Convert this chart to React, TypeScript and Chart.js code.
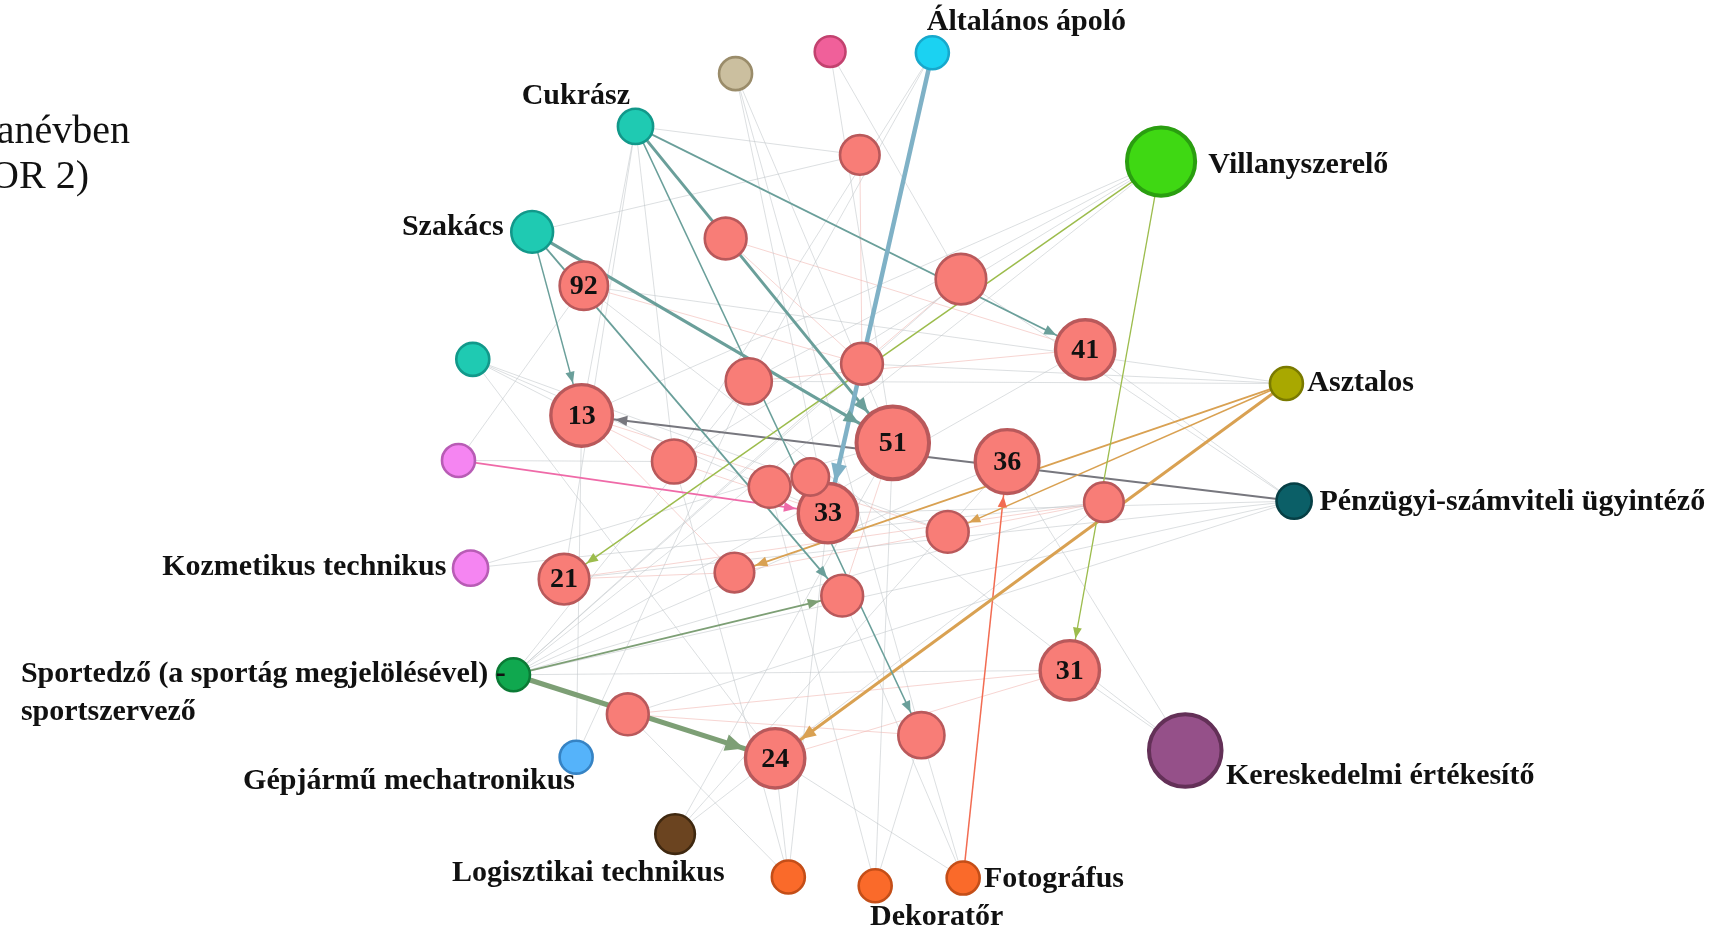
import React, { useEffect, useRef } from "react";
import { Chart, registerables } from "chart.js";

Chart.register(...registerables);

// Layout coordinate system of the network (reference units)
const W_REF = 1568;
const H_REF = 849;

// ---- Nodes ----
const nodeKeys = [
  "apolo", "pink", "beige", "cukrasz", "rTop", "villany", "szakacs", "rA", "rB", "n92",
  "n41", "tealS", "rC", "asztalos", "rD", "n13", "n51", "n36", "magenta", "rE",
  "n33", "rF", "rG", "rH", "penz", "rI", "kozm", "n21", "rJ", "rK",
  "sport", "n31", "rL", "rM", "gep", "n24", "keresk", "logi", "or1", "dek", "foto",
];
const nodeX = [
  848, 755, 669, 578, 782, 1056, 484, 660, 874, 531,
  987, 430, 784, 1170, 681, 529, 812, 916, 417, 613,
  753, 700, 737, 1004, 1177, 862, 428, 513, 668, 766,
  467, 973, 571, 838, 524, 705, 1078, 614, 717, 796, 876,
];
const nodeY = [
  48, 47, 67, 115, 141, 147, 211, 217, 254, 260,
  318, 327, 331, 349, 347, 378, 403, 420, 419, 420,
  467, 443, 434, 457, 456, 484, 517, 527, 521, 542,
  614, 610, 650, 669, 689, 690, 683, 759, 798, 806, 799,
];
const nodeSize = [
  15, 14, 15, 16, 18, 31, 19, 19, 23, 22,
  27, 15, 19, 15, 21, 28, 33, 29, 15, 20,
  27, 19, 17, 18, 16, 19, 16, 23, 18, 19,
  15, 27, 19, 21, 15, 27, 33, 18, 15, 15, 15,
];
const nodeGroup = [
  "sky", "rose", "beige", "teal", "red", "lime", "teal", "red", "red", "red",
  "red", "teal", "red", "olive", "red", "red", "red", "red", "violet", "red",
  "red", "red", "red", "red", "petrol", "red", "violet", "red", "red", "red",
  "green", "red", "red", "red", "blue", "red", "purple", "brown", "orange", "orange", "orange",
];
const nodeNumbers: Record<string, string> = {
  n92: "92", n41: "41", n13: "13", n51: "51", n36: "36", n33: "33", n21: "21", n31: "31", n24: "24",
};
const nodeLabels: Record<string, string[]> = {
  apolo: ["Általános ápoló"],
  cukrasz: ["Cukrász"],
  villany: ["Villanyszerelő"],
  szakacs: ["Szakács"],
  asztalos: ["Asztalos"],
  penz: ["Pénzügyi-számviteli ügyintéző"],
  kozm: ["Kozmetikus technikus"],
  sport: ["Sportedző (a sportág megjelölésével) -", "sportszervező"],
  gep: ["Gépjármű mechatronikus"],
  keresk: ["Kereskedelmi értékesítő"],
  logi: ["Logisztikai technikus"],
  foto: ["Fotográfus"],
  dek: ["Dekoratőr"],
};
const titleLines = ["anévben", "OR 2)"];

// ---- Directed (highlighted) edges ----
const arrowFrom = ["apolo", "cukrasz", "cukrasz", "cukrasz", "szakacs", "szakacs", "szakacs", "villany", "villany", "asztalos", "asztalos", "asztalos", "penz", "magenta", "sport", "sport", "foto"];
const arrowTo = ["n33", "n51", "n41", "rM", "n13", "n51", "rK", "n21", "n31", "n24", "rI", "rJ", "n13", "n33", "rK", "n24", "n36"];
const arrowKind = ["blue", "teal", "teal", "teal", "teal", "teal", "teal", "lime", "lime", "orange", "orange", "orange", "gray", "pink", "green", "green", "red"];
const arrowWeight = [4.5, 3, 1.8, 1.5, 1.5, 3.2, 1.8, 1.5, 1.3, 3, 1.5, 1.8, 2, 1.8, 1.8, 5, 1.5];

// ---- Faint background edges ----
const faintFrom = [
  "cukrasz", "cukrasz", "cukrasz", "cukrasz", "beige", "beige", "beige", "pink", "pink", "apolo",
  "apolo", "rTop", "rTop", "villany", "villany", "villany", "villany", "asztalos", "asztalos", "asztalos",
  "penz", "penz", "penz", "penz", "penz", "penz", "keresk", "keresk", "keresk", "sport",
  "sport", "sport", "sport", "sport", "sport", "sport", "tealS", "tealS", "tealS", "tealS",
  "kozm", "kozm", "gep", "gep", "logi", "logi", "logi", "or1", "or1", "or1",
  "or1", "dek", "dek", "dek", "foto", "foto", "foto", "magenta", "magenta", "n31",
  "n31", "n41", "n41", "rH", "rH", "rI", "rJ", "n21", "rM", "n92",
  "rB", "n51", "rA", "n13", "rE",
];
const faintTo = [
  "rTop", "n13", "rE", "n21", "rM", "n33", "n51", "rB", "n51", "rD",
  "rE", "rC", "szakacs", "rD", "rE", "n13", "sport", "rC", "n92", "rD",
  "n33", "sport", "rL", "n21", "rB", "n41", "n31", "n36", "n92", "n31",
  "n36", "rH", "rC", "rD", "n41", "rB", "n13", "n33", "rI", "n24",
  "n51", "rH", "n13", "rD", "n51", "n36", "rH", "n24", "rL", "n33",
  "rE", "rM", "n51", "rF", "rM", "n24", "rK", "rE", "n92", "n24",
  "rL", "rD", "rA", "n21", "rJ", "n13", "n13", "rJ", "rL", "rC",
  "rC", "rK", "rC", "rE", "n33",
];

const groupFill: Record<string, string> = {
  red: "#f87d77", teal: "#1fcab2", sky: "#1bd2f2", rose: "#f0609a", beige: "#cbbf9f",
  lime: "#3fd813", olive: "#a9a800", petrol: "#0b5f67", violet: "#f585f2", green: "#10a84f",
  blue: "#55b3fa", brown: "#6b4420", orange: "#fa6a2a", purple: "#955089",
};
const groupBorder: Record<string, string> = {
  red: "#b9595b", teal: "#12988a", sky: "#17a8cc", rose: "#c2426f", beige: "#9a8c6a",
  lime: "#2a9e10", olive: "#7a7a00", petrol: "#063f45", violet: "#b85cb5", green: "#0b7a35",
  blue: "#3683c4", brown: "#3f2810", orange: "#c44e18", purple: "#633057",
};
const edgeColor: Record<string, string> = {
  blue: "#7fb1c6", teal: "#6a9f9a", lime: "#9cbc4c", orange: "#d9a152", gray: "#77777e",
  pink: "#ef6aa8", green: "#7d9f75", red: "#f26c52",
};

const FONT = "'Liberation Serif', 'Times New Roman', 'DejaVu Serif', serif";

function idx(key: string) {
  return nodeKeys.indexOf(key);
}

export default function App() {
  const canvasRef = useRef<HTMLCanvasElement | null>(null);

  useEffect(() => {
    document.body.style.margin = "0";
    const canvas = canvasRef.current;
    if (!canvas) return;

    const scaleF = (chart: any) => chart.width / W_REF;
    const nodeBorderW = (i: number) => (nodeSize[i] >= 30 ? 4 : nodeSize[i] >= 24 ? 3.4 : 2.6);

    const datasets: any[] = [];

    // nodes (drawn on top)
    datasets.push({
      type: "scatter",
      label: "nodes",
      order: 0,
      data: nodeKeys.map((_, i) => ({ x: nodeX[i], y: nodeY[i] })),
      pointRadius: (ctx: any) => nodeSize[ctx.dataIndex] * scaleF(ctx.chart),
      pointBackgroundColor: nodeGroup.map((g) => groupFill[g]),
      pointBorderColor: nodeGroup.map((g) => groupBorder[g]),
      pointBorderWidth: nodeKeys.map((_, i) => nodeBorderW(i)),
      clip: false,
    });

    // faint edges
    faintFrom.forEach((f, k) => {
      const a = idx(f);
      const b = idx(faintTo[k]);
      const bothRed = nodeGroup[a] === "red" && nodeGroup[b] === "red";
      datasets.push({
        type: "line",
        label: "faint" + k,
        order: 3,
        data: [
          { x: nodeX[a], y: nodeY[a] },
          { x: nodeX[b], y: nodeY[b] },
        ],
        borderColor: bothRed ? "rgba(240,172,166,0.5)" : "rgba(192,196,200,0.55)",
        borderWidth: 1,
        pointRadius: 0,
        fill: false,
        clip: false,
      });
    });

    // highlighted directed edges
    arrowFrom.forEach((f, k) => {
      const a = idx(f);
      const b = idx(arrowTo[k]);
      datasets.push({
        type: "line",
        label: "edge" + k,
        order: 2,
        data: [
          { x: nodeX[a], y: nodeY[a] },
          { x: nodeX[b], y: nodeY[b] },
        ],
        borderColor: edgeColor[arrowKind[k]],
        borderWidth: arrowWeight[k],
        pointRadius: 0,
        fill: false,
        clip: false,
      });
    });

    const arrowPlugin = {
      id: "arrows",
      beforeDatasetDraw(chart: any, args: any) {
        if (args.index !== 0) return;
        const ctx = chart.ctx;
        const xs = chart.scales.x;
        const ys = chart.scales.y;
        const s = scaleF(chart);
        ctx.save();
        arrowFrom.forEach((f, k) => {
          const a = idx(f);
          const b = idx(arrowTo[k]);
          const x1 = xs.getPixelForValue(nodeX[a]);
          const y1 = ys.getPixelForValue(nodeY[a]);
          const x2 = xs.getPixelForValue(nodeX[b]);
          const y2 = ys.getPixelForValue(nodeY[b]);
          const dx = x2 - x1;
          const dy = y2 - y1;
          const len = Math.hypot(dx, dy);
          const ux = dx / len;
          const uy = dy / len;
          const rr = nodeSize[b] * s + nodeBorderW(b) / 2 + 1;
          const tx = x2 - ux * rr;
          const ty = y2 - uy * rr;
          const w = arrowWeight[k];
          const L = 8 + 2.2 * w;
          const H = 3 + 1.1 * w;
          const bx = tx - ux * L;
          const by = ty - uy * L;
          ctx.fillStyle = edgeColor[arrowKind[k]];
          ctx.beginPath();
          ctx.moveTo(tx, ty);
          ctx.lineTo(bx - uy * H, by + ux * H);
          ctx.lineTo(bx + uy * H, by - ux * H);
          ctx.closePath();
          ctx.fill();
        });
        ctx.restore();
      },
    };

    const labelLayout: Record<string, { dx: number; dy: number; align: CanvasTextAlign; lh?: number }> = {
      apolo: { dx: -5, dy: -28, align: "left" },
      cukrasz: { dx: -5, dy: -27, align: "right" },
      villany: { dx: 43, dy: 3, align: "left" },
      szakacs: { dx: -26, dy: -4, align: "right" },
      asztalos: { dx: 19, dy: 0, align: "left" },
      penz: { dx: 23, dy: 1, align: "left" },
      kozm: { dx: -22, dy: -1, align: "right" },
      sport: { dx: -448, dy: 0, align: "left", lh: 34 },
      gep: { dx: -1, dy: 22, align: "right" },
      keresk: { dx: 37, dy: 23, align: "left" },
      logi: { dx: 45, dy: 36, align: "right" },
      foto: { dx: 19, dy: 1, align: "left" },
      dek: { dx: 56, dy: 29, align: "center" },
    };

    const textPlugin = {
      id: "texts",
      afterDatasetsDraw(chart: any) {
        const ctx = chart.ctx;
        const xs = chart.scales.x;
        const ys = chart.scales.y;
        const s = scaleF(chart);
        ctx.save();
        ctx.fillStyle = "#111111";
        ctx.textBaseline = "middle";
        // numbers inside nodes
        ctx.font = `bold ${Math.round(28 * s / 1.0995)}px ${FONT}`;
        ctx.textAlign = "center";
        nodeKeys.forEach((key, i) => {
          const num = nodeNumbers[key];
          if (!num) return;
          ctx.fillText(num, xs.getPixelForValue(nodeX[i]), ys.getPixelForValue(nodeY[i]) + 1);
        });
        // labels
        ctx.font = `bold ${Math.round(30.5 * s / 1.0995)}px ${FONT}`;
        nodeKeys.forEach((key, i) => {
          const lines = nodeLabels[key];
          if (!lines) return;
          const lay = labelLayout[key];
          ctx.textAlign = lay.align;
          lines.forEach((line, li) => {
            const vx = nodeX[i] + lay.dx;
            const vy = nodeY[i] + lay.dy + li * (lay.lh || 0);
            ctx.fillText(line, xs.getPixelForValue(vx), ys.getPixelForValue(vy));
          });
        });
        // clipped title fragment at top-left
        ctx.font = `${Math.round(40 * s / 1.0995)}px ${FONT}`;
        ctx.textAlign = "left";
        ctx.textBaseline = "alphabetic";
        ctx.fillText(titleLines[0], xs.getPixelForValue(-3), ys.getPixelForValue(130));
        ctx.fillText(titleLines[1], xs.getPixelForValue(-9), ys.getPixelForValue(171));
        ctx.restore();
      },
    };

    const chart = new Chart(canvas, {
      type: "scatter",
      data: { datasets },
      options: {
        animation: false,
        responsive: true,
        maintainAspectRatio: false,
        events: [],
        layout: { padding: 0, autoPadding: false },
        plugins: { legend: { display: false }, tooltip: { enabled: false } },
        scales: {
          x: { type: "linear", min: 0, max: W_REF, display: false },
          y: { type: "linear", min: 0, max: H_REF, reverse: true, display: false },
        },
      },
      plugins: [arrowPlugin, textPlugin],
    } as any);

    return () => chart.destroy();
  }, []);

  return (
    <div style={{ position: "absolute", left: 0, top: 0, width: 1724, height: 933, background: "#ffffff" }}>
      <canvas ref={canvasRef} />
    </div>
  );
}
